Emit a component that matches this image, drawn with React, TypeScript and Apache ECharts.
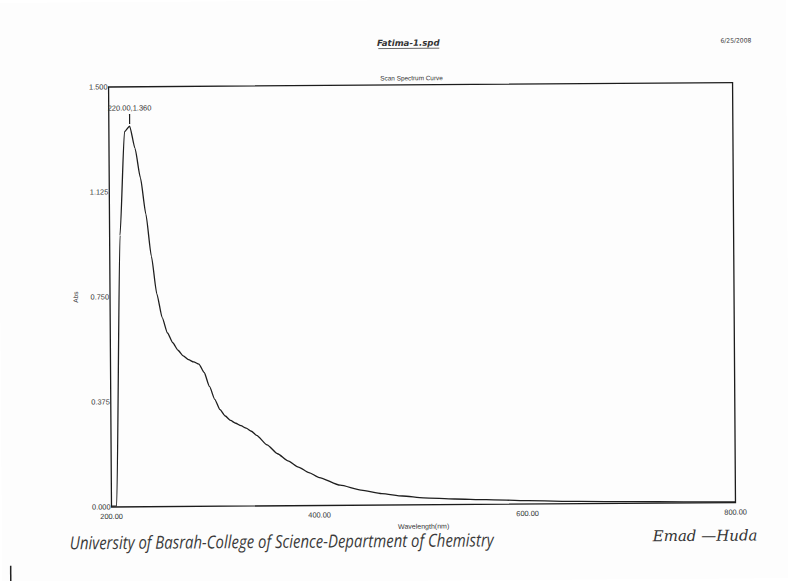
import React, { useEffect, useRef } from "react";
import * as echarts from "echarts";

const wavelengths = [
  200, 205, 210, 215, 220, 225, 230, 235, 240, 245, 250, 255, 260, 265, 270, 275,
  280, 285, 290, 295, 300, 305, 310, 315, 320, 325, 330, 335, 340, 350, 360, 370,
  380, 390, 400, 420, 440, 460, 480, 500, 530, 560, 600, 650, 700, 750, 800,
];
const absorbance = [
  0.003, 0.004, 0.97, 1.34, 1.36, 1.28, 1.175, 1.045, 0.895, 0.76, 0.675, 0.62,
  0.585, 0.558, 0.538, 0.524, 0.516, 0.508, 0.478, 0.428, 0.382, 0.345, 0.322,
  0.306, 0.296, 0.287, 0.278, 0.267, 0.252, 0.218, 0.186, 0.16, 0.138, 0.118,
  0.1, 0.072, 0.054, 0.041, 0.032, 0.025, 0.02, 0.017, 0.012, 0.008, 0.006,
  0.004, 0.003,
];
const peak = { x: 220, y: 1.36, label: "220.00,1.360" };
const xTicks = { min: 200, max: 800, interval: 200 };
const yTicks = { min: 0, max: 1.5, interval: 0.375 };

const fileTitle = "Fatima-1.spd";
const dateText = "6/25/2008";
const chartTitle = "Scan Spectrum Curve";
const footerLeft = "University of Basrah-College of Science-Department of Chemistry";
const footerRight = "Emad \u2014Huda";

export default function App() {
  const ref = useRef<HTMLDivElement>(null);
  useEffect(() => {
    if (!ref.current) return;
    const chart = echarts.init(ref.current, undefined, { renderer: "svg" });
    const data = wavelengths.map((w, i) => [w, absorbance[i]]);
    const labelFont = { fontFamily: "Liberation Sans", fontSize: 7.4, color: "#333333" };
    chart.setOption({
      animation: false,
      backgroundColor: "#fdfdfd",
      grid: {
        left: 110,
        right: 54,
        top: 85,
        bottom: 76,
        show: true,
        borderColor: "#1c1c1c",
        borderWidth: 1.3,
        backgroundColor: "transparent",
      },
      xAxis: {
        type: "value",
        min: xTicks.min,
        max: xTicks.max,
        interval: xTicks.interval,
        name: "Wavelength(nm)",
        nameLocation: "middle",
        nameGap: 17,
        nameTextStyle: { fontFamily: "Liberation Sans", fontSize: 7, color: "#333333" },
        axisLine: { show: false },
        axisTick: { show: false },
        splitLine: { show: false },
        axisLabel: {
          ...labelFont,
          margin: 6,
          formatter: (v: number) => v.toFixed(2),
        },
      },
      yAxis: {
        type: "value",
        min: yTicks.min,
        max: yTicks.max,
        interval: yTicks.interval,
        name: "Abs",
        nameLocation: "middle",
        nameGap: 31,
        nameRotate: 90,
        nameTextStyle: { fontFamily: "Liberation Sans", fontSize: 6.5, color: "#333333" },
        axisLine: { show: false },
        axisTick: { show: false },
        splitLine: { show: false },
        axisLabel: {
          ...labelFont,
          margin: 1,
          padding: [0, 0, 3, 0],
          formatter: (v: number) => v.toFixed(3),
        },
      },
      series: [
        {
          type: "line",
          data,
          showSymbol: false,
          smooth: 0.2,
          smoothMonotone: "x",
          lineStyle: { color: "#1e1e1e", width: 1.3 },
          markPoint: {
            symbol: "rect",
            symbolSize: [1.2, 10],
            symbolOffset: [0, -7],
            itemStyle: { color: "#1e1e1e" },
            label: {
              show: true,
              position: "top",
              distance: 2,
              formatter: peak.label,
              fontFamily: "Liberation Sans",
              fontSize: 7.5,
              color: "#333333",
            },
            data: [{ coord: [peak.x, peak.y] }],
          },
        },
      ],
      graphic: [
        {
          type: "text",
          x: 410,
          y: 43,
          style: {
            text: fileTitle,
            fontFamily: "DejaVu Sans",
            fontWeight: "bold",
            fontStyle: "italic",
            fontSize: 8.6,
            fill: "#333",
            textAlign: "center",
            textVerticalAlign: "middle",
          },
        },
        {
          type: "line",
          shape: { x1: 380, y1: 48.5, x2: 441, y2: 48.5 },
          style: { stroke: "#444", lineWidth: 0.8 },
        },
        {
          type: "text",
          x: 753,
          y: 42.5,
          style: {
            text: dateText,
            fontFamily: "DejaVu Sans",
            fontSize: 6,
            fill: "#333",
            textAlign: "right",
            textVerticalAlign: "middle",
          },
        },
        {
          type: "text",
          x: 413,
          y: 78,
          style: {
            text: chartTitle,
            fontFamily: "Liberation Sans",
            fontSize: 6.4,
            fill: "#333",
            textAlign: "center",
            textVerticalAlign: "middle",
          },
        },
        {
          type: "text",
          x: 68,
          y: 540,
          scaleX: 0.83,
          style: {
            text: footerLeft,
            fontFamily: "Open Sans",
            fontStyle: "italic",
            fontSize: 18,
            fill: "#3a3a3a",
            textAlign: "left",
            textVerticalAlign: "middle",
          },
        },
        {
          type: "text",
          x: 651,
          y: 538,
          style: {
            text: footerRight,
            fontFamily: "DejaVu Serif",
            fontStyle: "italic",
            fontSize: 15,
            fill: "#333",
            textAlign: "left",
            textVerticalAlign: "middle",
          },
        },
        {
          type: "rect",
          shape: { x: 8, y: 563, width: 1.5, height: 18 },
          style: { fill: "#222" },
        },
      ],
    });
    return () => chart.dispose();
  }, []);
  return (
    <div
      ref={ref}
      style={{
        position: "absolute",
        left: 0,
        top: 0,
        width: 788,
        height: 581,
        transform: "rotate(-0.4deg)",
        transformOrigin: "50% 50%",
      }}
    />
  );
}
